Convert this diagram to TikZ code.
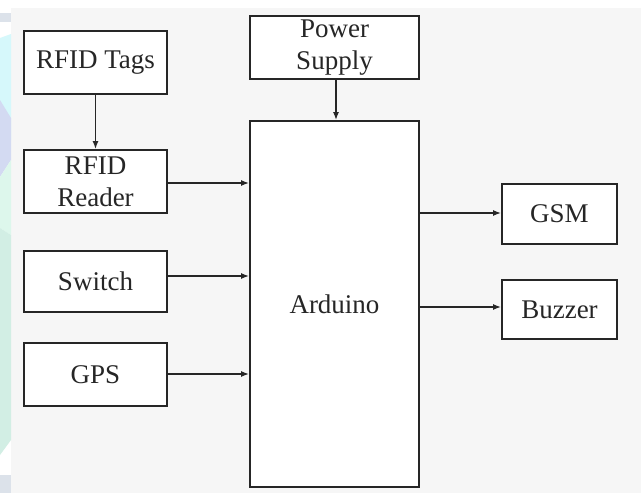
\documentclass[tikz,border=0pt]{standalone}
\usepackage{fontspec}
\setmainfont{Liberation Serif}
\usetikzlibrary{arrows.meta}
\definecolor{panel}{HTML}{F6F6F6}
\definecolor{wmcyan}{HTML}{D6F8FB}
\definecolor{wmlav}{HTML}{D3DAF2}
\definecolor{wmgreen}{HTML}{DDF7EC}
\definecolor{wmteal}{HTML}{D2EEE4}
\definecolor{wmgray}{HTML}{DCE2EA}
\tikzset{
  blk/.style={draw=black!85, line width=1.8pt, fill=white, inner sep=0pt,
    font=\fontsize{27}{32}\selectfont, align=center, text=black!85},
  conn/.style={draw=black!85, line width=1.5pt, -{Latex[length=8pt,width=6pt]}}
}
\begin{document}
\begin{tikzpicture}[x=1pt,y=-1pt]
\useasboundingbox (0,0) rectangle (641,493);
\fill[white] (0,0) rectangle (641,493);
\fill[panel] (11,8) rectangle (641,493);
% left watermark strip
\fill[wmgray] (0,13) rectangle (11,22);
\fill[wmcyan] (0,38) -- (11,34) -- (11,140) -- (0,150) -- cycle;
\fill[wmlav] (0,100) -- (11,118) -- (11,160) -- (0,177) -- cycle;
\fill[wmgreen] (0,177) -- (11,160) -- (11,235) -- (0,228) -- cycle;
\fill[wmteal] (0,228) -- (11,235) -- (11,440) -- (0,455) -- cycle;
\fill[wmgray] (0,475) rectangle (11,493);

\node[blk, minimum width=143pt, minimum height=63pt] (tags) at (95.5,62.5) {RFID Tags};
\node[blk, minimum width=143pt, minimum height=63pt] (reader) at (95.5,181.5) {RFID\\Reader};
\node[blk, minimum width=143pt, minimum height=61pt] (switch) at (95.5,281.5) {Switch};
\node[blk, minimum width=143pt, minimum height=63pt] (gps) at (95.5,374.5) {GPS};
\node[blk, minimum width=169pt, minimum height=63pt] (power) at (334.5,47.5) {Power\\Supply};
\node[blk, minimum width=169pt, minimum height=366pt] (ard) at (334.5,304) {Arduino};
\node[blk, minimum width=115pt, minimum height=60pt] (gsm) at (559.5,214) {GSM};
\node[blk, minimum width=115pt, minimum height=59pt] (buzz) at (559.5,309.5) {Buzzer};

\draw[conn] (tags.south) -- (reader.north);
\draw[conn] (power.south -| 336,0) -- (ard.north -| 336,0);
\draw[conn] (reader.east |- 0,183) -- (ard.west |- 0,183);
\draw[conn] (switch.east |- 0,276) -- (ard.west |- 0,276);
\draw[conn] (gps.east |- 0,374) -- (ard.west |- 0,374);
\draw[conn] (ard.east |- 0,213) -- (gsm.west |- 0,213);
\draw[conn] (ard.east |- 0,307) -- (buzz.west |- 0,307);
\end{tikzpicture}
\end{document}
